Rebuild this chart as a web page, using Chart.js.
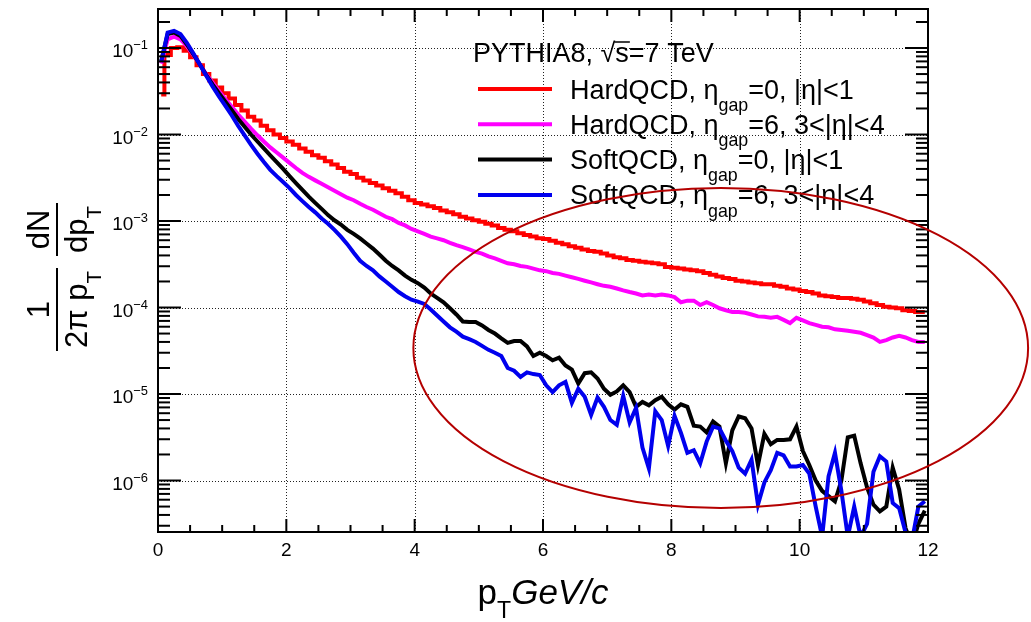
<!DOCTYPE html>
<html>
<head>
<meta charset="utf-8">
<title>PYTHIA8 pT spectra</title>
<script src="https://cdn.jsdelivr.net/npm/chart.js@4.4.0/dist/chart.umd.min.js"></script>
<style>
  html, body { margin: 0; padding: 0; background: #fff; }
  #wrap { width: 1031px; height: 622px; }
</style>
</head>
<body>
<div id="wrap"><canvas id="pt-chart" width="1031" height="622"></canvas></div>
<script>
// pT bin centres (GeV/c), 0.1 wide bins
const ptBins = [
  0.05, 0.15, 0.25, 0.35, 0.45, 0.55, 0.65, 0.75, 0.85, 0.95,
  1.05, 1.15, 1.25, 1.35, 1.45, 1.55, 1.65, 1.75, 1.85, 1.95,
  2.05, 2.15, 2.25, 2.35, 2.45, 2.55, 2.65, 2.75, 2.85, 2.95,
  3.05, 3.15, 3.25, 3.35, 3.45, 3.55, 3.65, 3.75, 3.85, 3.95,
  4.05, 4.15, 4.25, 4.35, 4.45, 4.55, 4.65, 4.75, 4.85, 4.95,
  5.05, 5.15, 5.25, 5.35, 5.45, 5.55, 5.65, 5.75, 5.85, 5.95,
  6.05, 6.15, 6.25, 6.35, 6.45, 6.55, 6.65, 6.75, 6.85, 6.95,
  7.05, 7.15, 7.25, 7.35, 7.45, 7.55, 7.65, 7.75, 7.85, 7.95,
  8.05, 8.15, 8.25, 8.35, 8.45, 8.55, 8.65, 8.75, 8.85, 8.95,
  9.05, 9.15, 9.25, 9.35, 9.45, 9.55, 9.65, 9.75, 9.85, 9.95,
  10.05, 10.15, 10.25, 10.35, 10.45, 10.55, 10.65, 10.75, 10.85, 10.95,
  11.05, 11.15, 11.25, 11.35, 11.45, 11.55, 11.65, 11.75, 11.85, 11.95
];

// HardQCD, eta_gap=0, |eta|<1
const hardCentral = [
  2.9e-2, 8.3e-2, 1.0e-1, 1.02e-1, 9.3e-2, 7.8e-2, 6.3e-2, 5.0e-2, 4.2e-2, 3.5e-2,
  3.0e-2, 2.6e-2, 2.2e-2, 1.9e-2, 1.6e-2, 1.45e-2, 1.26e-2, 1.12e-2, 1.0e-2, 9.1e-3,
  8.3e-3, 7.6e-3, 6.9e-3, 6.3e-3, 5.75e-3, 5.4e-3, 4.9e-3, 4.5e-3, 4.1e-3, 3.7e-3,
  3.5e-3, 3.16e-3, 2.95e-3, 2.75e-3, 2.57e-3, 2.4e-3, 2.24e-3, 2.09e-3, 1.91e-3, 1.74e-3,
  1.62e-3, 1.55e-3, 1.48e-3, 1.41e-3, 1.32e-3, 1.26e-3, 1.2e-3, 1.12e-3, 1.07e-3, 1.02e-3,
  9.8e-4, 9.3e-4, 8.9e-4, 8.3e-4, 7.9e-4, 7.6e-4, 7.2e-4, 6.9e-4, 6.6e-4, 6.3e-4,
  6.2e-4, 5.9e-4, 5.6e-4, 5.4e-4, 5.1e-4, 4.9e-4, 4.7e-4, 4.5e-4, 4.4e-4, 4.2e-4,
  4.0e-4, 3.8e-4, 3.7e-4, 3.55e-4, 3.47e-4, 3.39e-4, 3.31e-4, 3.24e-4, 3.16e-4, 2.95e-4,
  2.88e-4, 2.82e-4, 2.75e-4, 2.69e-4, 2.63e-4, 2.51e-4, 2.4e-4, 2.29e-4, 2.19e-4, 2.14e-4,
  2.04e-4, 2.0e-4, 1.95e-4, 1.91e-4, 1.86e-4, 1.86e-4, 1.78e-4, 1.74e-4, 1.66e-4, 1.62e-4,
  1.55e-4, 1.51e-4, 1.45e-4, 1.38e-4, 1.35e-4, 1.32e-4, 1.29e-4, 1.29e-4, 1.26e-4, 1.23e-4,
  1.17e-4, 1.12e-4, 1.07e-4, 1.02e-4, 1.0e-4, 9.8e-5, 9.3e-5, 9.1e-5, 8.9e-5, 8.9e-5
];

// HardQCD, eta_gap=6, 3<|eta|<4
const hardForward = [
  6.6e-2, 1.26e-1, 1.35e-1, 1.26e-1, 1.05e-1, 8.3e-2, 6.5e-2, 5.0e-2, 4.0e-2, 3.16e-2,
  2.57e-2, 2.09e-2, 1.7e-2, 1.41e-2, 1.17e-2, 9.8e-3, 8.3e-3, 7.1e-3, 6.2e-3, 5.4e-3,
  4.7e-3, 4.1e-3, 3.6e-3, 3.24e-3, 2.95e-3, 2.69e-3, 2.45e-3, 2.24e-3, 2.04e-3, 1.86e-3,
  1.74e-3, 1.58e-3, 1.45e-3, 1.35e-3, 1.23e-3, 1.12e-3, 1.05e-3, 9.5e-4, 8.9e-4, 8.1e-4,
  7.6e-4, 7.1e-4, 6.6e-4, 6.3e-4, 6.0e-4, 5.6e-4, 5.25e-4, 5.0e-4, 4.7e-4, 4.4e-4,
  4.2e-4, 3.9e-4, 3.7e-4, 3.47e-4, 3.24e-4, 3.16e-4, 3.02e-4, 2.95e-4, 2.82e-4, 2.69e-4,
  2.63e-4, 2.51e-4, 2.45e-4, 2.34e-4, 2.24e-4, 2.14e-4, 2.04e-4, 1.95e-4, 1.86e-4, 1.78e-4,
  1.74e-4, 1.66e-4, 1.58e-4, 1.51e-4, 1.45e-4, 1.38e-4, 1.41e-4, 1.38e-4, 1.41e-4, 1.38e-4,
  1.32e-4, 1.15e-4, 1.2e-4, 1.2e-4, 1.07e-4, 1.15e-4, 1.07e-4, 9.8e-5, 9.3e-5, 8.9e-5,
  8.9e-5, 8.7e-5, 8.3e-5, 7.9e-5, 7.8e-5, 7.6e-5, 7.8e-5, 7.2e-5, 6.6e-5, 7.6e-5,
  7.1e-5, 6.6e-5, 6.3e-5, 6.0e-5, 5.9e-5, 5.6e-5, 5.5e-5, 5.4e-5, 5.25e-5, 5.1e-5,
  4.8e-5, 4.5e-5, 4.0e-5, 4.2e-5, 4.5e-5, 4.7e-5, 4.5e-5, 4.2e-5, 4.0e-5, 4.0e-5
];

// SoftQCD, eta_gap=0, |eta|<1
const softCentral = [
  7.1e-2, 1.45e-1, 1.51e-1, 1.38e-1, 1.1e-1, 8.5e-2, 6.5e-2, 4.9e-2, 3.8e-2, 3.0e-2,
  2.4e-2, 1.91e-2, 1.51e-2, 1.23e-2, 1.0e-2, 8.3e-3, 6.9e-3, 5.75e-3, 4.8e-3, 4.0e-3,
  3.3e-3, 2.75e-3, 2.29e-3, 1.91e-3, 1.62e-3, 1.38e-3, 1.17e-3, 1.02e-3, 9.1e-4, 7.9e-4,
  7.1e-4, 6.3e-4, 5.5e-4, 4.8e-4, 4.1e-4, 3.47e-4, 3.02e-4, 2.69e-4, 2.34e-4, 2.09e-4,
  1.91e-4, 1.7e-4, 1.45e-4, 1.29e-4, 1.15e-4, 9.8e-5, 8.3e-5, 6.9e-5, 6.8e-5, 6.8e-5,
  6.2e-5, 5.5e-5, 5.0e-5, 4.4e-5, 3.9e-5, 4.1e-5, 4.1e-5, 3.55e-5, 2.75e-5, 3.0e-5,
  2.75e-5, 2.45e-5, 2.63e-5, 2.14e-5, 1.91e-5, 1.32e-5, 1.74e-5, 1.78e-5, 1.51e-5, 1.15e-5,
  9.8e-6, 1.07e-5, 1.26e-5, 1.05e-5, 7.1e-6, 8.1e-6, 7.4e-6, 8.5e-6, 9.3e-6, 7.6e-6,
  6.6e-6, 7.6e-6, 7.1e-6, 4.3e-6, 4.2e-6, 3.6e-6, 4.8e-6, 4.2e-6, 1.58e-6, 3.8e-6,
  5.5e-6, 5.25e-6, 4.0e-6, 1.51e-6, 3.47e-6, 2.63e-6, 2.95e-6, 2.95e-6, 3.0e-6, 4.2e-6,
  2.19e-6, 1.51e-6, 1.0e-6, 7.6e-7, 6.6e-7, 5.75e-7, 1.0e-6, 3.16e-6, 3.3e-6, 1.58e-6,
  8.3e-7, 5.25e-7, 4.4e-7, 5.0e-7, 1.41e-6, 7.9e-7, 2.82e-7, 1.78e-7, 3.16e-7, 4.5e-7
];

// SoftQCD, eta_gap=6, 3<|eta|<4
const softForward = [
  6.9e-2, 1.51e-1, 1.58e-1, 1.45e-1, 1.15e-1, 8.7e-2, 6.5e-2, 4.8e-2, 3.6e-2, 2.75e-2,
  2.14e-2, 1.66e-2, 1.26e-2, 9.8e-3, 7.6e-3, 6.0e-3, 4.8e-3, 3.9e-3, 3.3e-3, 2.82e-3,
  2.4e-3, 2.0e-3, 1.7e-3, 1.45e-3, 1.26e-3, 1.07e-3, 9.3e-4, 7.9e-4, 6.6e-4, 5.4e-4,
  4.3e-4, 3.47e-4, 3.02e-4, 2.69e-4, 2.29e-4, 2.0e-4, 1.74e-4, 1.51e-4, 1.35e-4, 1.23e-4,
  1.17e-4, 1.1e-4, 9.5e-5, 8.1e-5, 6.9e-5, 5.9e-5, 5.25e-5, 4.6e-5, 4.3e-5, 4.0e-5,
  3.6e-5, 3.24e-5, 3.0e-5, 2.75e-5, 2.0e-5, 1.86e-5, 1.58e-5, 1.78e-5, 1.7e-5, 1.66e-5,
  1.26e-5, 1.05e-5, 1.26e-5, 1.38e-5, 7.9e-6, 1.15e-5, 9.3e-6, 5.75e-6, 9.1e-6, 7.1e-6,
  5.0e-6, 4.4e-6, 9.5e-6, 4.7e-6, 6.9e-6, 2.4e-6, 1.38e-6, 6.3e-6, 5.0e-6, 2.51e-6,
  5.6e-6, 3.55e-6, 2.09e-6, 2.24e-6, 1.58e-6, 2.82e-6, 4.2e-6, 4.0e-6, 2.88e-6, 2.19e-6,
  1.41e-6, 1.2e-6, 1.74e-6, 5.25e-7, 9.5e-7, 1.32e-6, 2.09e-6, 1.95e-6, 1.45e-6, 1.45e-6,
  1.51e-6, 1.2e-6, 5.0e-7, 2.24e-7, 1.12e-6, 2.09e-6, 7.6e-7, 2.24e-7, 5.0e-7, 2.24e-7,
  3.16e-7, 1.26e-6, 1.91e-6, 1.66e-6, 5.5e-7, 4.8e-7, 2.51e-7, 2.0e-7, 5.0e-7, 5.75e-7
];

const seriesNames = [
  'HardQCD, η_{gap}=0, |η|<1',
  'HardQCD, η_{gap}=6, 3<|η|<4',
  'SoftQCD, η_{gap}=0, |η|<1',
  'SoftQCD, η_{gap}=6, 3<|η|<4'
];
const seriesColors = ['#ff0000', '#ff00ff', '#000000', '#0000ee'];

const xTicks = [0, 2, 4, 6, 8, 10, 12];
const xTickLabels = ['0', '2', '4', '6', '8', '10', '12'];
const yTicks = [1e-1, 1e-2, 1e-3, 1e-4, 1e-5, 1e-6];
const yTickLabels = ['10^{−1}', '10^{−2}', '10^{−3}', '10^{−4}', '10^{−5}', '10^{−6}'];

const xRange = [0, 12];
const yRange = [2.54e-7, 0.2825];

const legendTitle = 'PYTHIA8, √s=7 TeV';
const xTitle = ['p_{T}', 'GeV/c'];
const yTitle = [['1', '2π p_{T}'], ['dN', 'dp_{T}']];

// hand-drawn highlight ring (data coordinates)
const ringX = [3.98, 13.56];
const ringY = [4.8e-7, 2.41e-3];

const FONT = '"Liberation Sans", Arial, Helvetica, sans-serif';

function richRuns(text) {
  const runs = [];
  const re = /([_^])\{([^}]*)\}/g;
  let last = 0, m;
  while ((m = re.exec(text))) {
    if (m.index > last) runs.push({ t: text.slice(last, m.index), k: '' });
    runs.push({ t: m[2], k: m[1] });
    last = re.lastIndex;
  }
  if (last < text.length) runs.push({ t: text.slice(last), k: '' });
  return runs;
}

function drawRich(ctx, text, x, y, size, opts = {}) {
  let cx = x;
  richRuns(text).forEach(r => {
    const s = r.k ? size * (opts.small || 0.66) : size;
    let dy = 0;
    if (r.k === '_') dy = size * (opts.sub || 0.45);
    if (r.k === '^') dy = -size * (opts.sup || 0.42);
    ctx.font = (opts.italic ? 'italic ' : '') + s + 'px ' + FONT;
    if (!opts.measure) ctx.fillText(r.t, cx, y + dy);
    cx += ctx.measureText(r.t).width;
  });
  return cx - x;
}

function hLine(ctx, x1, x2, y) {
  ctx.beginPath(); ctx.moveTo(x1, y); ctx.lineTo(x2, y); ctx.stroke();
}
function vLine(ctx, x, y1, y2) {
  ctx.beginPath(); ctx.moveTo(x, y1); ctx.lineTo(x, y2); ctx.stroke();
}

const rootStyle = {
  id: 'rootStyle',
  beforeDatasetsDraw(chart) {
    const { ctx, chartArea: a, scales: { x, y } } = chart;
    ctx.save();
    ctx.strokeStyle = '#222';
    ctx.lineWidth = 1;
    ctx.setLineDash([1, 2]);
    xTicks.forEach(v => {
      if (v <= xRange[0] || v >= xRange[1]) return;
      vLine(ctx, Math.round(x.getPixelForValue(v)) + 0.5, a.top, a.bottom);
    });
    yTicks.forEach(v => {
      hLine(ctx, a.left, a.right, Math.round(y.getPixelForValue(v)) + 0.5);
    });
    ctx.restore();
  },
  afterDatasetsDraw(chart) {
    const { ctx, chartArea: a, scales: { x, y } } = chart;
    ctx.save();
    ctx.strokeStyle = '#000';
    ctx.fillStyle = '#000';
    ctx.lineWidth = 2;

    // frame
    ctx.strokeRect(a.left, a.top, a.right - a.left, a.bottom - a.top);

    // x ticks (inside, bottom and top)
    for (let v = xRange[0]; v <= xRange[1] + 1e-9; v += 0.5) {
      const px = x.getPixelForValue(v);
      const len = xTicks.includes(v) ? 13 : 7;
      vLine(ctx, px, a.bottom, a.bottom - len);
      vLine(ctx, px, a.top, a.top + len);
    }
    // y ticks (inside, left and right)
    for (let d = -7; d <= 0; d++) {
      for (let m = 1; m <= 9; m++) {
        const v = m * Math.pow(10, d);
        if (v < yRange[0] || v > yRange[1]) continue;
        const py = y.getPixelForValue(v);
        const len = m === 1 ? 23 : 12;
        hLine(ctx, a.left, a.left + len, py);
        hLine(ctx, a.right, a.right - len, py);
      }
    }

    // tick labels
    ctx.textBaseline = 'alphabetic';
    ctx.textAlign = 'left';
    xTicks.forEach((v, i) => {
      ctx.font = '19px ' + FONT;
      const w = ctx.measureText(xTickLabels[i]).width;
      ctx.fillText(xTickLabels[i], x.getPixelForValue(v) - w / 2, a.bottom + 24);
    });
    yTicks.forEach((v, i) => {
      const py = y.getPixelForValue(v);
      const w = drawRich(ctx, yTickLabels[i], 0, 0, 19, { measure: true, small: 0.68 });
      drawRich(ctx, yTickLabels[i], 148 - w, py + 9, 19, { small: 0.68 });
    });

    // x title
    const xs = 35;
    const w1 = drawRich(ctx, xTitle[0], 0, 0, xs, { measure: true });
    const w2 = drawRich(ctx, xTitle[1], 0, 0, xs, { measure: true, italic: true });
    let tx = (a.left + a.right) / 2 - (w1 + w2) / 2;
    tx += drawRich(ctx, xTitle[0], tx, 604, xs, { sub: 0.4 });
    drawRich(ctx, xTitle[1], tx, 604, xs, { italic: true });

    // y title: two stacked fractions, rotated
    ctx.save();
    ctx.translate(57, 351);
    ctx.rotate(-Math.PI / 2);
    const ys = 31;
    let u = 0;
    yTitle.forEach(([num, den]) => {
      const nw = drawRich(ctx, num, 0, 0, ys, { measure: true });
      const dw = drawRich(ctx, den, 0, 0, ys, { measure: true });
      const fw = Math.max(nw, dw) + 6;
      ctx.lineWidth = 2;
      hLine(ctx, u, u + fw, 0);
      drawRich(ctx, num, u + (fw - nw) / 2, -8, ys);
      drawRich(ctx, den, u + (fw - dw) / 2, 30, ys);
      u += fw + 12;
    });
    ctx.restore();

    // legend
    const ls = 27;
    ctx.font = ls + 'px ' + FONT;
    ctx.fillText(legendTitle, 473, 62);
    const pre = legendTitle.slice(0, legendTitle.indexOf('s='));
    const sx = 473 + ctx.measureText(pre).width;
    const sw = ctx.measureText('s').width;
    ctx.lineWidth = 1.5;
    hLine(ctx, sx - 1, sx + sw + 1, 42);
    seriesNames.forEach((name, i) => {
      const ly = 89 + i * 35.3;
      ctx.strokeStyle = seriesColors[i];
      ctx.lineWidth = 4;
      hLine(ctx, 478, 552, ly);
      ctx.fillStyle = '#000';
      drawRich(ctx, name, 570, ly + 9.5, ls);
    });

    // highlight ring
    const rx0 = x.getPixelForValue(ringX[0]), rx1 = x.getPixelForValue(ringX[1]);
    const ry0 = y.getPixelForValue(ringY[1]), ry1 = y.getPixelForValue(ringY[0]);
    ctx.strokeStyle = '#b40000';
    ctx.lineWidth = 2;
    ctx.beginPath();
    ctx.ellipse((rx0 + rx1) / 2, (ry0 + ry1) / 2, (rx1 - rx0) / 2, (ry1 - ry0) / 2, 0, 0, Math.PI * 2);
    ctx.stroke();

    ctx.restore();
  }
};

function makeSeries(values) {
  return ptBins.map((x, i) => ({ x, y: values[i] }));
}

function drawSpectra() {
  const ctx = document.getElementById('pt-chart').getContext('2d');
  const allSeries = [hardCentral, hardForward, softCentral, softForward];

  new Chart(ctx, {
    type: 'line',
    data: {
      datasets: allSeries.map((values, i) => ({
        label: seriesNames[i],
        data: makeSeries(values),
        borderColor: seriesColors[i],
        backgroundColor: seriesColors[i],
        borderWidth: 4,
        stepped: i === 0 ? 'middle' : false,
        tension: 0,
        pointRadius: 0,
        fill: false,
        clip: 0,
        order: 4 - i
      }))
    },
    options: {
      responsive: false,
      animation: false,
      layout: { padding: { left: 158, top: 9, right: 103, bottom: 90 } },
      plugins: { legend: { display: false }, tooltip: { enabled: false } },
      scales: {
        x: { type: 'linear', min: xRange[0], max: xRange[1], display: false },
        y: { type: 'logarithmic', min: yRange[0], max: yRange[1], display: false }
      }
    },
    plugins: [rootStyle]
  });
}

window.addEventListener('load', drawSpectra);
</script>
</body>
</html>
